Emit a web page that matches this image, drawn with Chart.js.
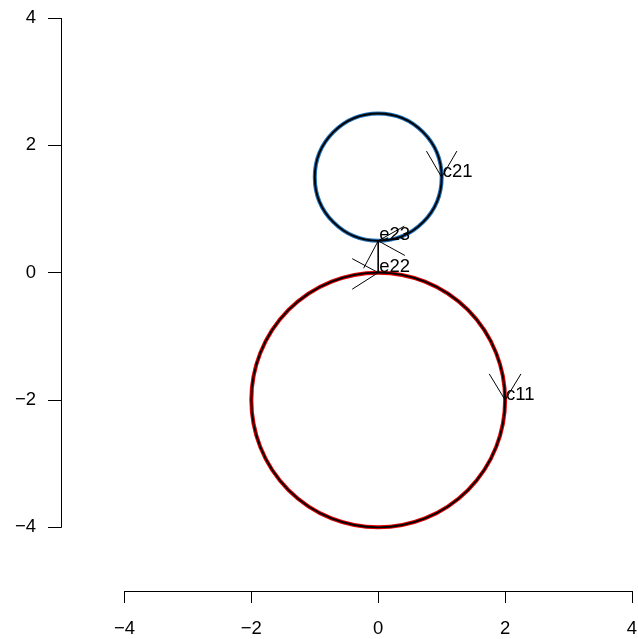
<!DOCTYPE html>
<html>
<head>
<meta charset="utf-8">
<script src="https://cdn.jsdelivr.net/npm/chart.js@4/dist/chart.umd.min.js"></script>
<style>
html,body{margin:0;padding:0;background:#fff;}
canvas{display:block;}
</style>
</head>
<body>
<canvas id="c" width="638" height="639"></canvas>
<script>
// ---- data ----
const xTickValues = [-4, -2, 0, 2, 4];
const yTickValues = [-4, -2, 0, 2, 4];

const circleCenterX = [0, 0];
const circleCenterY = [-2, 1.5];
const circleRadius  = [2, 1];

const pointLabels = ['c11', 'c21', 'e22', 'e23'];
const pointX = [2, 1, 0, 0];
const pointY = [-2, 1.5, 0, 0.5];

const segFromX = [2, 2, 1, 1, 0, 0, 0, 0, 0, 0];
const segFromY = [-2, -2, 1.5, 1.5, 0, 0, 0.5, 0.5, 0.5, 0.5];
const segToX   = [1.75, 2.25, 0.76, 1.24, -0.41, -0.41, 0.41, -0.23, 0, 0.42];
const segToY   = [-1.59, -1.59, 1.91, 1.91, 0.22, -0.26, 0.73, 0.07, 0, 0.27];

// ---- styles ----
const circleColors = ['#e00000', '#1f6fb8'];
const FONT = "'Liberation Sans', Arial, Helvetica, sans-serif";
const FONT_SIZE = 18.5;

const fmt = v => (v < 0 ? '\u2212' + Math.abs(v) : String(v));

const datasets = segFromX.map((_, i) => ({
  type: 'line',
  data: [{x: segFromX[i], y: segFromY[i]}, {x: segToX[i], y: segToY[i]}],
  showLine: true,
  borderColor: '#000',
  borderWidth: 1,
  pointRadius: 0,
  fill: false,
  tension: 0
}));

const circlePlugin = {
  id: 'circles',
  beforeDatasetsDraw(chart) {
    const {ctx, scales: {x, y}} = chart;
    ctx.save();
    for (let i = 0; i < circleCenterX.length; i++) {
      const cx = x.getPixelForValue(circleCenterX[i]);
      const cy = y.getPixelForValue(circleCenterY[i]);
      const rx = Math.abs(x.getPixelForValue(circleCenterX[i] + circleRadius[i]) - cx);
      const ry = Math.abs(y.getPixelForValue(circleCenterY[i] + circleRadius[i]) - cy);
      ctx.beginPath();
      ctx.ellipse(cx, cy, rx, ry, 0, 0, Math.PI * 2);
      ctx.strokeStyle = circleColors[i];
      ctx.lineWidth = 4;
      ctx.stroke();
      ctx.beginPath();
      ctx.ellipse(cx, cy, rx, ry, 0, 0, Math.PI * 2);
      ctx.strokeStyle = '#000';
      ctx.lineWidth = 1.8;
      ctx.stroke();
    }
    ctx.restore();
  }
};

const labelPlugin = {
  id: 'ptlabels',
  afterDatasetsDraw(chart) {
    const {ctx, scales: {x, y}} = chart;
    ctx.save();
    ctx.font = FONT_SIZE + 'px ' + FONT;
    ctx.fillStyle = '#000';
    ctx.textAlign = 'left';
    ctx.textBaseline = 'alphabetic';
    for (let i = 0; i < pointLabels.length; i++) {
      ctx.fillText(pointLabels[i], x.getPixelForValue(pointX[i]) + 1, y.getPixelForValue(pointY[i]) - 0.5);
    }
    ctx.restore();
  }
};

const axisLinePlugin = {
  id: 'axisLines',
  afterDraw(chart) {
    const {ctx, chartArea, scales: {x, y}} = chart;
    ctx.save();
    ctx.strokeStyle = '#000';
    ctx.lineWidth = 1;
    ctx.beginPath();
    const yl = Math.round(chartArea.left) + 0.5;
    ctx.moveTo(yl, y.getPixelForValue(yTickValues[0]) + 0.5);
    ctx.lineTo(yl, y.getPixelForValue(yTickValues[yTickValues.length - 1]));
    const xb = Math.round(chartArea.bottom) + 0.5;
    ctx.moveTo(x.getPixelForValue(xTickValues[0]), xb);
    ctx.lineTo(x.getPixelForValue(xTickValues[xTickValues.length - 1]) + 0.5, xb);
    ctx.stroke();
    ctx.restore();
  }
};

new Chart(document.getElementById('c'), {
  type: 'scatter',
  data: {datasets},
  options: {
    responsive: false,
    devicePixelRatio: 1,
    animation: false,
    layout: {padding: {top: 18, right: 6, left: 0, bottom: 0}},
    plugins: {legend: {display: false}, tooltip: {enabled: false}},
    scales: {
      x: {
        type: 'linear', min: -5, max: 4,
        afterBuildTicks: s => { s.ticks = xTickValues.map(v => ({value: v})); },
        afterFit: s => { s.height = 48; s.paddingLeft = 0; s.paddingRight = 0; },
        grid: {display: true, drawOnChartArea: false, drawTicks: true, tickLength: 12, color: '#000', lineWidth: 1},
        border: {display: false},
        ticks: {callback: v => fmt(v), color: '#000', font: {family: FONT, size: FONT_SIZE}, padding: 15, maxRotation: 0, autoSkip: false}
      },
      y: {
        type: 'linear', min: -5, max: 4,
        afterBuildTicks: s => { s.ticks = yTickValues.map(v => ({value: v})); },
        afterFit: s => { s.width = 61; s.paddingTop = 0; s.paddingBottom = 0; },
        grid: {display: true, drawOnChartArea: false, drawTicks: true, tickLength: 13, color: '#000', lineWidth: 1},
        border: {display: false},
        ticks: {callback: v => fmt(v), color: '#000', font: {family: FONT, size: FONT_SIZE}, padding: 12, autoSkip: false}
      }
    }
  },
  plugins: [circlePlugin, labelPlugin, axisLinePlugin]
});
</script>
</body>
</html>
